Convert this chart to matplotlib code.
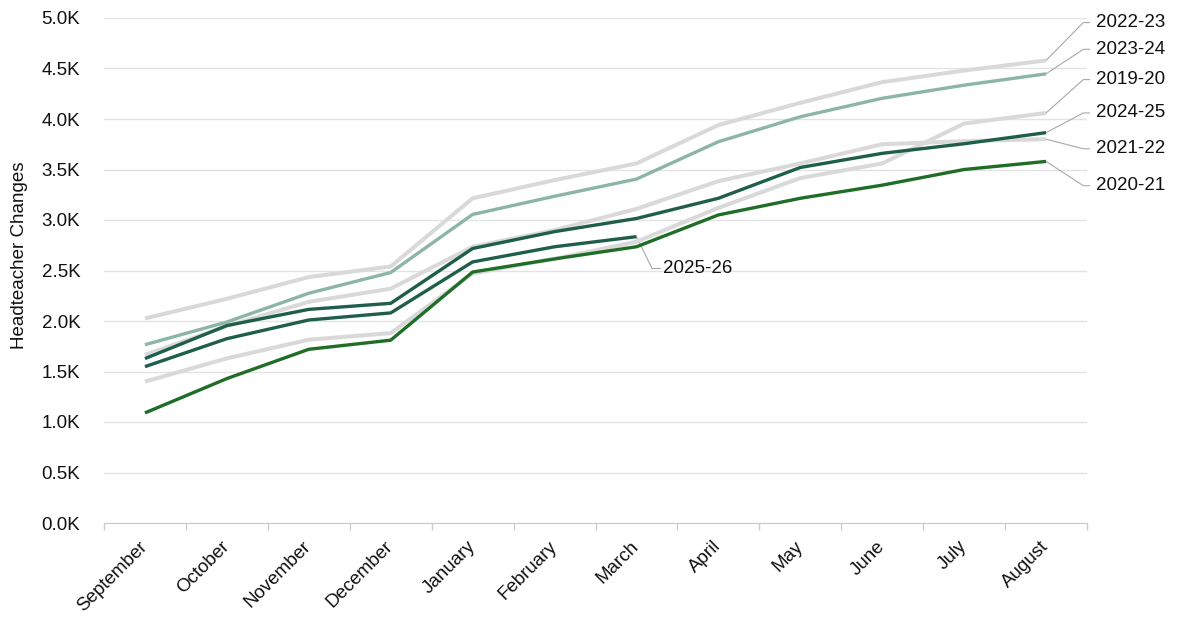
import matplotlib
matplotlib.use("Agg")
import matplotlib.pyplot as plt
from matplotlib.ticker import FuncFormatter, FixedLocator

plt.rcParams['font.family'] = ['Liberation Sans', 'DejaVu Sans']

months = ['September', 'October', 'November', 'December', 'January', 'February',
          'March', 'April', 'May', 'June', 'July', 'August']

# cumulative headteacher changes by month, per academic year
y2019_20 = [1400, 1630, 1815, 1880, 2470, 2615, 2785, 3120, 3415, 3560, 3955, 4060]
y2020_21 = [1090, 1430, 1720, 1810, 2485, 2615, 2735, 3050, 3215, 3345, 3500, 3580]
y2021_22 = [1665, 1950, 2190, 2320, 2735, 2900, 3110, 3385, 3560, 3750, 3780, 3800]
y2022_23 = [2025, 2220, 2435, 2540, 3215, 3395, 3560, 3940, 4160, 4365, 4480, 4580]
y2023_24 = [1765, 1990, 2275, 2480, 3055, 3235, 3405, 3775, 4022, 4205, 4335, 4447]
y2024_25 = [1628, 1955, 2115, 2175, 2718, 2885, 3015, 3215, 3520, 3660, 3755, 3865]
y2025_26 = [1548, 1825, 2010, 2080, 2585, 2735, 2835]

GRAY = '#d9d9d9'
LIGHT = '#8db5a5'
DARK = '#1e5e4b'
GREEN = '#1f6d27'
LEADER = '#a8a8a8'

series = [
    ('2022-23', y2022_23, GRAY, 2.9),
    ('2019-20', y2019_20, GRAY, 2.9),
    ('2021-22', y2021_22, GRAY, 2.9),
    ('2023-24', y2023_24, LIGHT, 2.4),
    ('2020-21', y2020_21, GREEN, 2.4),
    ('2025-26', y2025_26, DARK, 2.4),
    ('2024-25', y2024_25, DARK, 2.4),
]

# label y positions on the right, top to bottom
label_y = {'2022-23': 4955, '2023-24': 4690, '2019-20': 4390,
           '2024-25': 4060, '2021-22': 3705, '2020-21': 3340}

fig = plt.figure(figsize=(11.81, 6.24), dpi=100)
ax = fig.add_axes([104 / 1181, 1 - 523 / 624, 983 / 1181, 505 / 624])

for name, vals, col, lw in series:
    ax.plot(range(len(vals)), vals, color=col, lw=lw, solid_joinstyle='round',
            solid_capstyle='butt', zorder=3)

for name, vals, col, lw in series:
    if name not in label_y:
        continue
    ly = label_y[name]
    ax.plot([11, 11.455, 11.53], [vals[-1], ly, ly], color=LEADER, lw=0.8,
            clip_on=False, zorder=2)
    ax.text(11.605, ly, name, fontsize=13.5, va='center', ha='left', color='#111111')

# 2025-26 is only part way through the year
last = len(y2025_26) - 1
ax.plot([last, last + 0.19, last + 0.29], [y2025_26[-1], 2520, 2520],
        color=LEADER, lw=0.8, zorder=2)
ax.text(last + 0.33, 2520, '2025-26', fontsize=13.5, va='center', ha='left', color='#111111')

ax.set_xlim(-0.5, 11.5)
ax.set_ylim(0, 5000)

ax.set_yticks(range(0, 5001, 500))
ax.yaxis.set_major_formatter(FuncFormatter(lambda v, p: f"{v / 1000:.1f}K"))
ax.tick_params(axis='y', length=0, pad=17, labelsize=13.5, labelcolor='#111111')
ax.grid(axis='y', color='#e3e3e3', lw=1.0, zorder=0)

ax.set_xticks(range(12))
ax.set_xticklabels(months, rotation=45, ha='right', va='center',
                   rotation_mode='anchor', fontsize=13.5, color='#111111')
ax.tick_params(axis='x', which='major', length=0, pad=15)
ax.xaxis.set_minor_locator(FixedLocator([i - 0.5 for i in range(13)]))
ax.tick_params(axis='x', which='minor', length=5, color='#cccccc', width=1)

for s in ['top', 'right', 'left']:
    ax.spines[s].set_visible(False)
ax.spines['bottom'].set_color('#cccccc')
ax.set_axisbelow(True)

ax.set_ylabel('Headteacher Changes', fontsize=13.5, color='#111111')
ax.yaxis.set_label_coords(-76 / 983, 0.53)

fig.savefig('out.png', dpi=100)
